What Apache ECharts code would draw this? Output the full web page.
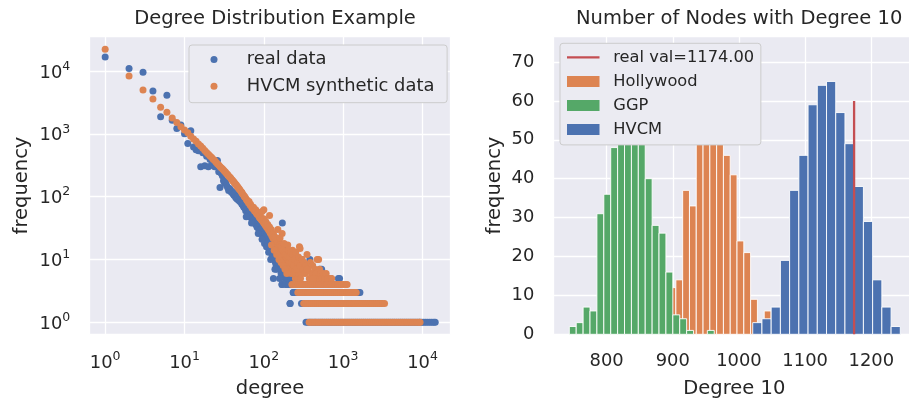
<!DOCTYPE html>
<html><head><meta charset="utf-8">
<script src="https://cdn.jsdelivr.net/npm/echarts@6/dist/echarts.min.js"></script>
<style>html,body{margin:0;padding:0;background:#fff}#c{width:909px;height:402px}</style>
</head><body><div id="c"></div>
<script>
// ---------- Left panel: degree distribution (degree, frequency) ----------
const realDeg = [
  1,2,3,4,5,6,7,8,9,10,
  11,12,13,14,15,16,17,18,19,20,
  21,22,23,24,25,26,27,28,29,30,
  31,32,33,34,35,36,37,38,39,40,
  41,42,43,44,45,46,47,48,49,50,
  52,53,55,56,58,59,61,62,64,65,
  67,68,70,72,73,75,77,79,80,82,
  84,86,88,90,92,94,96,98,100,103,
  105,107,110,112,114,117,120,122,125,128,
  130,132,133,136,140,143,145,148,152,155,
  160,165,169,171,175,180,185,190,195,200,
  205,210,214,220,230,236,245,255,265,280,
  300,380,510,535,870,600,700,650,900,110,
  125,140,160,180,200,230,150,118,135,190,
  60,70,85,95,102,108,115,127,138,158
];
const realFreq = [
  16700,11000,9600,4800,1870,4100,1650,1220,1380,1000,
  700,1120,620,560,540,300,500,310,440,300,
  390,315,360,300,330,375,250,140,235,215,
  180,165,175,150,140,125,135,128,118,120,
  110,105,112,98,95,92,100,88,90,84,
  80,76,72,68,66,60,62,56,55,52,
  50,47,46,44,41,42,38,36,38,33,
  32,34,30,28,30,26,25,27,24,26,
  22,24,20,17,19,16,14,10,15,12,
  13,5,11,10,9,8,7,10,8,9,
  7,6,4,38,6,7,5,6,4,5,
  6,4,2,5,4,3,5,4,5,4,
  10,10,7,7,5,5,5,4,5,30,
  26,22,18,14,12,9,16,28,20,10,
  48,38,26,21,18,16,13,11,7,5
];
// degrees whose real frequency is 1, 2, 3, 4
const realOnes = [340,358,380,403,428,452,481,510,542,574,611,648,688,731,776,824,875,930,986,1048,1112,1181,1254,1332,1414,1502,1594,1693,1797,1909,2026,2152,2285,2426,2577,2736,2905,3085,3276,3478,3694,3921,4165,4420,4695,4985,5293,5622,5968,6339,6731,7146,7590,8058,8557,9088,9650,10250,10880,11550,12270,13020,13830,14450];
const realTwos = [214,298,316,335,356,377,400,425,451,478,508,538,571,606,643,683,724,769,815,866,918,975,1034,1097,1165,1236,1312,1392,1477,1568,1664,1766,1874,1989,2110,2240,2376,2522,2676,2840,3010];
const realThrees = [234,248,264,280,297,315,335,355,377,400,425,451,478,508,539,572,607,644,683,725,770,817,867,920,976,1036,1100,1167,1239,1314,1395,1480,1570,1625];
const realFours = [170,188,205,240,262,285,310,338,368,400,436,475,517,563,613,668,727,792,862,905];

const synDeg = [
  1,2,3,4,5,6,7,8,9,10,
  11,12,13,14,15,16,17,18,19,20,
  21,22,23,24,25,26,27,28,29,30,
  31,32,33,34,35,36,37,38,39,40,
  41,42,43,44,45,46,47,48,49,50,
  52,53,54,56,57,58,60,61,62,64,
  65,67,68,70,71,73,74,76,78,79,
  81,83,85,87,89,90,92,94,96,98,
  100,101,103,105,106,108,110,112,114,116,
  118,120,122,124,126,128,130,132,135,137,
  140,142,145,147,150,152,155,158,160,163,
  166,168,172,175,178,182,185,188,192,195,
  198,202,206,210,214,218,222,226,230,235,
  240,245,250,256,262,268,275,282,290,298,
  100,95,118,150,170,200,230,286,300,490,
  205,212,218,224,231,238,246,252,258,266,
  273,281,288,303,311,320,330,340,350,362,
  374,386,398,412,426,440,455,470,486,503,
  520,540,560,585,610,640,680,716,350,420,
  125,135,145,155,165,175,185,195,160,180
];
const synFreq = [
  22100,8300,5000,3600,2650,2200,1780,1520,1300,1150,
  1040,920,830,760,690,640,590,545,505,475,
  445,420,395,375,352,335,318,302,290,278,
  266,255,244,232,225,214,206,200,190,184,
  176,172,164,158,154,146,142,136,133,128,
  120,116,110,104,100,98,92,88,86,80,
  84,74,76,70,66,64,68,60,58,62,
  54,52,56,48,46,50,44,42,45,40,
  38,44,36,35,40,33,32,36,30,29,
  33,27,26,30,24,25,22,26,21,23,
  19,22,18,20,16,19,15,17,14,16,
  13,15,12,14,11,13,10,12,9,11,
  10,8,10,9,7,8,6,9,7,8,
  6,7,5,6,8,5,6,7,5,6,
  62,58,50,30,26,17,14,15,10,10,
  14,11,13,9,12,8,10,13,7,9,
  11,16,8,10,7,9,6,8,12,7,
  5,9,6,8,5,7,6,10,5,7,
  6,5,6,5,6,5,5,5,7,5,
  17,14,12,10,9,8,7,6,22,18
];
const synOnes = [372,390,412,438,461,489,518,547,583,618,655,697,740,785,836,884,940,997,1058,1125,1190,1265,1340,1425,1510,1605,1700,1805,1915,2035,2160,2290,2435,2580,2740,2910,3090,3280,3480,3700,3925,4170,4425,4700,4990,5300,5620,5970,6340,6730,7140,7580,8050,8540,9070,9300];
const synTwos = [318,336,356,378,400,424,450,477,506,536,569,603,640,678,720,763,810,858,910,965,1024,1085,1150,1220,1295,1372,1455,1545,1638,1736,1842,1955,2072,2198,2330,2470,2620,2780,2950,3130,3320];
const synThrees = [268,285,302,320,340,361,383,406,431,457,485,514,546,579,614,652,691,733,778,825,876,929,986,1046,1110,1178,1250,1326,1407,1460];
const synFours = [226,240,255,271,288,305,324,344,365,388,412,437,464,493,523,555,590,626,665,706,749,795,845,897,952,1010,1075,1120];

// ---------- Right panel: histograms of number of nodes with degree 10 ----------
const hollyBinStart = 884.1, hollyBinWidth = 10.27;
const hollyCounts = [1,12,14,37,33,59,73,70,52,46,41,24,21,9,2,6];
const ggpBinStart = 743.6, ggpBinWidth = 10.43;
const ggpCounts = [2,3,7,6,31,36,48,57,66,68,55,40,28,26,16,5,4,1,0,0,1];
const hvcmBinStart = 1020.8, hvcmBinWidth = 13.94;
const hvcmCounts = [3,4,7,19,37,46,59,64,65,57,49,38,29,14,7,2];
const realVal = 1174.00;
const realValLineTop = 60;

// ---------- build ----------
const FONT = 'DejaVu Sans';
const TXT = '#262626';
const BLUE = '#4C72B0', ORANGE = '#DD8452', GREEN = '#55A868', RED = '#C44E52';

function pairs(xs, ys){ return xs.map((x,i)=>[x, ys[i]]); }
function band(xs, f){ return xs.map(x=>[x, f]); }
const realPts = pairs(realDeg, realFreq).concat(band(realOnes,1), band(realTwos,2), band(realThrees,3), band(realFours,4));
const synPts = pairs(synDeg, synFreq).concat(band(synOnes,1), band(synTwos,2), band(synThrees,3), band(synFours,4));

function histData(start, width, counts){
  const out = [];
  counts.forEach((c,i)=>{ if (c > 0) out.push([start + i*width, start + (i+1)*width, c]); });
  return out;
}
function renderBar(params, api){
  const a = api.coord([api.value(0), api.value(2)]);
  const b = api.coord([api.value(1), 0]);
  return {type:'rect', shape:{x:a[0], y:a[1], width:b[0]-a[0], height:b[1]-a[1]},
          style:{fill: api.visual('color'), stroke:'#ffffff', lineWidth:0.9}};
}
function pow10(v){ const e = Math.round(Math.log10(v)); return '{b|10}{s|' + e + '}'; }
function plain(v){ return String(Math.round(v)); }
const supRich = {
  b:{fontFamily:FONT, fontSize:17.9, color:TXT, lineHeight:22, verticalAlign:'bottom'},
  s:{fontFamily:FONT, fontSize:12.5, color:TXT, lineHeight:12, verticalAlign:'top'}
};
const grid = {lineStyle:{color:'#ffffff', width:1.3}};
const nameStyle = {fontFamily:FONT, fontSize:19.5, color:TXT};
const tickStyle = {fontFamily:FONT, fontSize:17.9, color:TXT};

const chart = echarts.init(document.getElementById('c'), null, {renderer:'canvas'});
chart.setOption({
  animation:false,
  backgroundColor:'#ffffff',
  textStyle:{fontFamily:FONT},
  title:[
    {text:'Degree Distribution Example', left:270, textAlign:'center', top:4,
     textStyle:{fontFamily:FONT, fontSize:19.5, fontWeight:'normal', color:TXT}},
    {text:'Number of Nodes with Degree 10', left:734.2, textAlign:'center', top:4,
     textStyle:{fontFamily:FONT, fontSize:19.5, fontWeight:'normal', color:TXT}}
  ],
  grid:[
    {left:89.3, top:36.7, width:361.4, height:297.6, show:true, backgroundColor:'#EAEAF2', borderWidth:0, containLabel:false, outerBoundsMode:'none'},
    {left:553.3, top:36.7, width:362, height:297.6, show:true, backgroundColor:'#EAEAF2', borderWidth:0, containLabel:false, outerBoundsMode:'none'}
  ],
  legend:[
    {orient:'vertical', left:189, top:45, padding:[4.5,12.7,6.5,21.5], itemWidth:7, itemHeight:7, itemGap:6.7, z:20,
     backgroundColor:'#EBEBF2', borderColor:'#cccccc', borderWidth:1, borderRadius:3, selectedMode:false,
     textStyle:{fontFamily:FONT, fontSize:17.9, color:TXT, lineHeight:20, padding:[0,0,0,24.2]},
     data:[{name:'real data', icon:'circle'}, {name:'HVCM synthetic data', icon:'circle'}]},
    {orient:'vertical', left:560, top:43.3, padding:[4,6.7,5.3,7], itemWidth:32.5, itemHeight:11, itemGap:4.1, z:20,
     backgroundColor:'#EBEBF2', borderColor:'#cccccc', borderWidth:1, borderRadius:3, selectedMode:false,
     textStyle:{fontFamily:FONT, fontSize:16.25, color:TXT, lineHeight:20, padding:[0,0,0,8.8]},
     data:[{name:'real val=1174.00', icon:'path://M0,0H33V2.2H0Z'}, {name:'Hollywood', icon:'rect'}, {name:'GGP', icon:'rect'}, {name:'HVCM', icon:'rect'}]}
  ],
  xAxis:[
    {type:'log', logBase:10, gridIndex:0, min:0.631, max:22650,
     axisLine:{show:false}, axisTick:{show:false}, splitLine:Object.assign({show:true}, grid), minorSplitLine:{show:false},
     axisLabel:{showMinLabel:false, showMaxLabel:false, margin:16, formatter:pow10, rich:supRich},
     name:'degree', nameLocation:'middle', nameGap:45, nameTextStyle:nameStyle},
    {type:'value', gridIndex:1, min:719.4, max:1266.5, scale:true,
     axisLine:{show:false}, axisTick:{show:false}, splitLine:Object.assign({show:true}, grid),
     axisLabel:Object.assign({showMinLabel:false, showMaxLabel:false, margin:18, formatter:plain}, tickStyle),
     name:'Degree 10', nameLocation:'middle', nameGap:45, nameTextStyle:nameStyle}
  ],
  yAxis:[
    {type:'log', logBase:10, gridIndex:0, min:0.6457, max:35160,
     axisLine:{show:false}, axisTick:{show:false}, splitLine:Object.assign({show:true}, grid), minorSplitLine:{show:false},
     axisLabel:{showMinLabel:false, showMaxLabel:false, margin:19, formatter:pow10, rich:supRich},
     name:'frequency', nameLocation:'middle', nameGap:57, nameTextStyle:nameStyle},
    {type:'value', gridIndex:1, min:0, max:76.5, interval:10,
     axisLine:{show:false}, axisTick:{show:false}, splitLine:Object.assign({show:true}, grid),
     axisLabel:Object.assign({showMaxLabel:false, margin:19, formatter:plain}, tickStyle),
     name:'frequency', nameLocation:'middle', nameGap:48, nameTextStyle:nameStyle}
  ],
  series:[
    {type:'scatter', name:'real data', xAxisIndex:0, yAxisIndex:0, data:realPts, symbolSize:7,
     itemStyle:{color:BLUE, opacity:1}, z:2, silent:true},
    {type:'scatter', name:'HVCM synthetic data', xAxisIndex:0, yAxisIndex:0, data:synPts, symbolSize:7,
     itemStyle:{color:ORANGE, opacity:1}, z:3, silent:true},
    {type:'custom', name:'Hollywood', xAxisIndex:1, yAxisIndex:1, renderItem:renderBar, encode:{x:[0,1], y:2},
     data:histData(hollyBinStart, hollyBinWidth, hollyCounts), itemStyle:{color:ORANGE}, z:2, silent:true},
    {type:'custom', name:'GGP', xAxisIndex:1, yAxisIndex:1, renderItem:renderBar, encode:{x:[0,1], y:2},
     data:histData(ggpBinStart, ggpBinWidth, ggpCounts), itemStyle:{color:GREEN}, z:2, silent:true},
    {type:'custom', name:'HVCM', xAxisIndex:1, yAxisIndex:1, renderItem:renderBar, encode:{x:[0,1], y:2},
     data:histData(hvcmBinStart, hvcmBinWidth, hvcmCounts), itemStyle:{color:BLUE}, z:2, silent:true},
    {type:'line', name:'real val=1174.00', xAxisIndex:1, yAxisIndex:1,
     data:[[realVal,0],[realVal,realValLineTop]], symbol:'none', lineStyle:{color:RED, width:2.3},
     itemStyle:{color:RED}, z:5, silent:true}
  ]
});
</script></body></html>
